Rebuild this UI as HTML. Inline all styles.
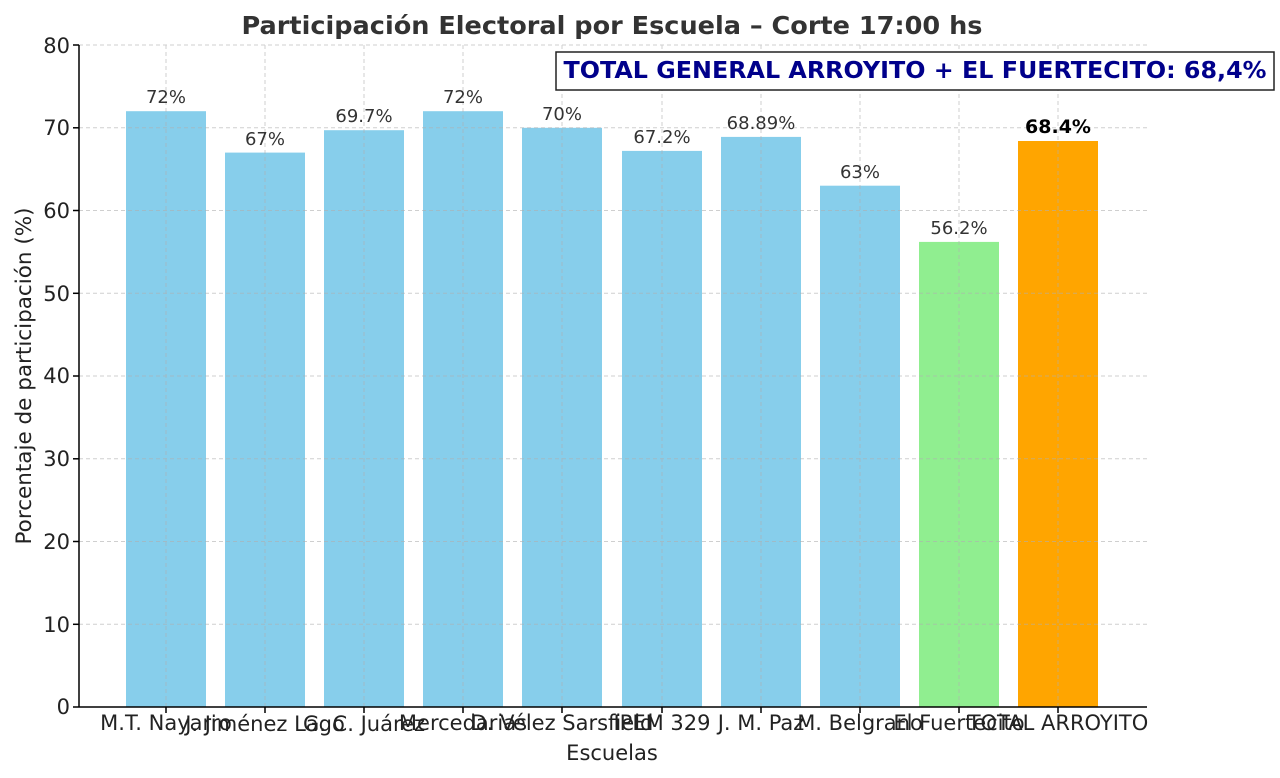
<!DOCTYPE html>
<html><head><meta charset="utf-8"><style>body{margin:0;background:#fff}svg{display:block}text{font-family:"DejaVu Sans","Liberation Sans",sans-serif}</style></head>
<body>
<svg width="1280" height="778" xmlns="http://www.w3.org/2000/svg">
<rect width="1280" height="778" fill="#fff"/>
<text x="612" y="34" text-anchor="middle" font-size="25" font-weight="bold" fill="#333" textLength="741" lengthAdjust="spacingAndGlyphs">Participación Electoral por Escuela – Corte 17:00 hs</text>
<g fill="#87ceeb">
<rect x="126" y="111.2" width="80" height="595.8"/>
<rect x="225" y="152.6" width="80" height="554.4"/>
<rect x="324" y="130.2" width="80" height="576.8"/>
<rect x="423" y="111.2" width="80" height="595.8"/>
<rect x="522" y="127.8" width="80" height="579.2"/>
<rect x="622" y="150.9" width="80" height="556.1"/>
<rect x="721" y="136.9" width="80" height="570.1"/>
<rect x="820" y="185.7" width="80" height="521.3"/>
<rect x="919" y="241.9" width="80" height="465.1" fill="#90ee90"/>
<rect x="1018" y="141" width="80" height="566" fill="#ffa500"/>
</g>
<g stroke="#b0b0b0" stroke-width="1" stroke-dasharray="4,3" opacity="0.6">
<line x1="79" x2="1147" y1="45" y2="45"/><line x1="79" x2="1147" y1="127.8" y2="127.8"/><line x1="79" x2="1147" y1="210.5" y2="210.5"/><line x1="79" x2="1147" y1="293.3" y2="293.3"/><line x1="79" x2="1147" y1="376" y2="376"/><line x1="79" x2="1147" y1="458.8" y2="458.8"/><line x1="79" x2="1147" y1="541.5" y2="541.5"/><line x1="79" x2="1147" y1="624.3" y2="624.3"/>
<line x1="166" x2="166" y1="45" y2="707"/><line x1="265" x2="265" y1="45" y2="707"/><line x1="364" x2="364" y1="45" y2="707"/><line x1="463" x2="463" y1="45" y2="707"/><line x1="562" x2="562" y1="45" y2="707"/><line x1="662" x2="662" y1="45" y2="707"/><line x1="761" x2="761" y1="45" y2="707"/><line x1="860" x2="860" y1="45" y2="707"/><line x1="959" x2="959" y1="45" y2="707"/><line x1="1058" x2="1058" y1="45" y2="707"/>
</g>
<g stroke="#000" stroke-width="1.5"><line x1="79" y1="45" x2="79" y2="707"/><line x1="79" y1="707" x2="1147" y2="707"/>
<line x1="73" x2="79" y1="45" y2="45"/><line x1="73" x2="79" y1="127.8" y2="127.8"/><line x1="73" x2="79" y1="210.5" y2="210.5"/><line x1="73" x2="79" y1="293.3" y2="293.3"/><line x1="73" x2="79" y1="376" y2="376"/><line x1="73" x2="79" y1="458.8" y2="458.8"/><line x1="73" x2="79" y1="541.5" y2="541.5"/><line x1="73" x2="79" y1="624.3" y2="624.3"/><line x1="73" x2="79" y1="707" y2="707"/>
<line x1="166" x2="166" y1="707" y2="713"/><line x1="265" x2="265" y1="707" y2="713"/><line x1="364" x2="364" y1="707" y2="713"/><line x1="463" x2="463" y1="707" y2="713"/><line x1="562" x2="562" y1="707" y2="713"/><line x1="662" x2="662" y1="707" y2="713"/><line x1="761" x2="761" y1="707" y2="713"/><line x1="860" x2="860" y1="707" y2="713"/><line x1="959" x2="959" y1="707" y2="713"/><line x1="1058" x2="1058" y1="707" y2="713"/>
</g>
<g font-size="21" fill="#222" text-anchor="end">
<text x="70" y="53">80</text><text x="70" y="135">70</text><text x="70" y="218">60</text><text x="70" y="301">50</text><text x="70" y="383">40</text><text x="70" y="466">30</text><text x="70" y="549">20</text><text x="70" y="632">10</text><text x="70" y="714">0</text>
</g>
<text transform="translate(31,376) rotate(-90)" font-size="21.5" fill="#222" text-anchor="middle">Porcentaje de participación (%)</text>
<g font-size="21" fill="#222" text-anchor="middle">
<text x="166" y="730">M.T. Nayarro</text><text x="265" y="731">J. Jiménez Lago</text><text x="364" y="731">G. C. Juárez</text><text x="463" y="730">Mercedarias</text><text x="562" y="730">D. Vélez Sarsfield</text><text x="662" y="730">IPEM 329</text><text x="761" y="730">J. M. Paz</text><text x="860" y="730">M. Belgrano</text><text x="959" y="730">El Fuertecito</text><text x="1058" y="730">TOTAL ARROYITO</text>
<text x="612" y="760">Escuelas</text>
</g>
<g font-size="18" fill="#333" text-anchor="middle">
<text x="166" y="103">72%</text><text x="265" y="145">67%</text><text x="364" y="122">69.7%</text><text x="463" y="103">72%</text><text x="562" y="120">70%</text><text x="662" y="143">67.2%</text><text x="761" y="129">68.89%</text><text x="860" y="178">63%</text><text x="959" y="234">56.2%</text>
<text x="1058" y="133" font-weight="bold" font-size="19" fill="#000">68.4%</text>
</g>
<rect x="556" y="52" width="718" height="38" fill="#fff" stroke="#222" stroke-width="1.5"/>
<text x="915" y="78" text-anchor="middle" font-size="23" font-weight="bold" fill="#00008b" textLength="703" lengthAdjust="spacingAndGlyphs">TOTAL GENERAL ARROYITO + EL FUERTECITO: 68,4%</text>
</svg>
</body></html>
